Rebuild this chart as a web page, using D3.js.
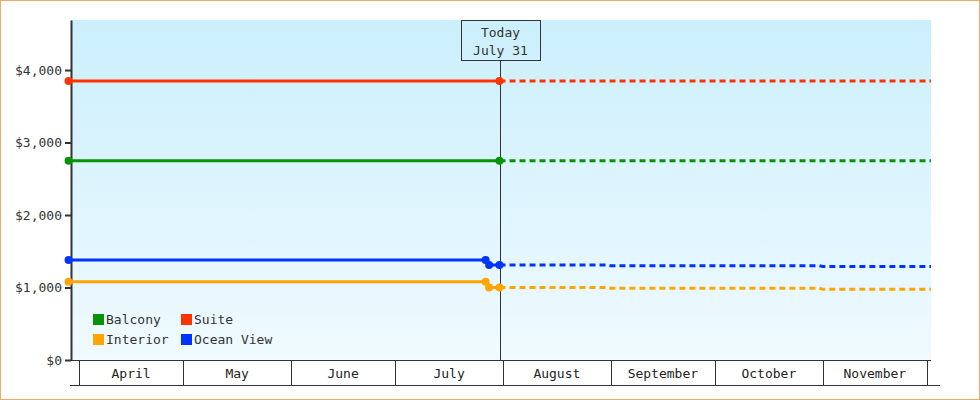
<!DOCTYPE html>
<html><head><meta charset="utf-8">
<script src="https://cdn.jsdelivr.net/npm/d3@7"></script>
<style>
body{margin:0;background:#fff}
svg{display:block;font-family:"DejaVu Sans Mono",monospace}
</style></head>
<body><svg id="chart" width="980" height="400"></svg>
<script>
var months = ['April','May','June','July','August','September','October','November'];
var yTicks = [0, 1000, 2000, 3000, 4000];
var seriesNames = ['Balcony','Suite','Interior','Ocean View'];
var colors = {'Balcony':'#079307','Suite':'#ff3300','Interior':'#ffa500','Ocean View':'#0033ff'};
var today = '2023-07-31';
// [date, price]
var pastBalcony = [['2023-03-29',2750],['2023-07-31',2750]];
var pastSuite = [['2023-03-29',3850],['2023-07-31',3850]];
var pastInterior = [['2023-03-29',1080],['2023-07-27',1080],['2023-07-28',1000],['2023-07-31',1000]];
var pastOcean = [['2023-03-29',1380],['2023-07-27',1380],['2023-07-28',1310],['2023-07-31',1310]];
var futBalcony = [['2023-07-31',2750],['2023-12-03',2750]];
var futSuite = [['2023-07-31',3850],['2023-12-03',3850]];
var futInterior = [['2023-07-31',1000],['2023-08-31',1000],['2023-09-01',990],['2023-10-31',990],['2023-11-01',975],['2023-12-03',975]];
var futOcean = [['2023-07-31',1310],['2023-08-31',1310],['2023-09-01',1300],['2023-10-31',1300],['2023-11-01',1290],['2023-12-03',1290]];

var svg = d3.select('#chart');
var parse = d3.timeParse('%Y-%m-%d');
var pLeft = 71, pRight = 931, pTop = 20, pBottom = 360;

var x = d3.scaleTime().domain([new Date(2023, 3, 1), new Date(2023, 11, 1)]).range([79, 927]);
var y = d3.scaleLinear().domain([0, 4690]).range([pBottom, pTop]);

var defs = svg.append('defs');
var grad = defs.append('linearGradient').attr('id','bg').attr('x1',0).attr('y1',0).attr('x2',0).attr('y2',1);
grad.append('stop').attr('offset','0%').attr('stop-color','#cbeffc');
grad.append('stop').attr('offset','100%').attr('stop-color','#f0faff');
defs.append('clipPath').attr('id','clip').append('rect')
  .attr('x',pLeft - 6).attr('y',pTop).attr('width',pRight - pLeft + 6).attr('height',pBottom - pTop);

svg.append('rect').attr('x',0.5).attr('y',0.5).attr('width',979).attr('height',399)
  .attr('fill','#fff').attr('stroke','#eeaa66');
svg.append('rect').attr('x',pLeft).attr('y',pTop).attr('width',pRight-pLeft).attr('height',pBottom-pTop).attr('fill','url(#bg)');

// y axis
var yAxis = d3.axisLeft(y).tickValues(yTicks).tickSize(6).tickSizeOuter(0)
  .tickFormat(function(d){ return '$' + d3.format(',')(d); });
svg.append('g').attr('transform','translate(' + pLeft + ',0)').call(yAxis)
  .call(function(g){ g.select('.domain').attr('stroke','#333').attr('stroke-width',2); })
  .call(function(g){ g.selectAll('line').attr('stroke','#333').attr('stroke-width',2); })
  .call(function(g){ g.selectAll('text').attr('fill','#333').style('font-size','13px').style('font-family','DejaVu Sans Mono'); });

// month boxes
var g = svg.append('g');
g.append('line').attr('x1',pLeft).attr('x2',pRight).attr('y1',pBottom + 0.5).attr('y2',pBottom + 0.5).attr('stroke','#333');
g.append('line').attr('x1',pLeft-1).attr('x2',940).attr('y1',385.5).attr('y2',385.5).attr('stroke','#333');
var bounds = months.map(function(m,i){ return new Date(2023, 3 + i, 1); });
bounds.push(new Date(2023, 11, 1));
bounds.forEach(function(d){
  var px = Math.round(x(d)) + 0.5;
  g.append('line').attr('x1',px).attr('x2',px).attr('y1',pBottom).attr('y2',385).attr('stroke','#333');
});
months.forEach(function(m,i){
  g.append('text').attr('x',(x(bounds[i]) + x(bounds[i+1])) / 2).attr('y',378)
    .attr('text-anchor','middle').attr('fill','#222').style('font-size','13px').text(m);
});

// today line
var tx = Math.round(x(parse(today))) + 0.5;
svg.append('line').attr('x1',tx).attr('x2',tx).attr('y1',60).attr('y2',pBottom).attr('stroke','#333');
svg.append('rect').attr('x',tx-39).attr('y',20.5).attr('width',79).attr('height',40)
  .attr('fill','none').attr('stroke','#333');
svg.append('text').attr('x',tx).attr('y',37).attr('text-anchor','middle').attr('fill','#333').style('font-size','13px').text('Today');
svg.append('text').attr('x',tx).attr('y',55).attr('text-anchor','middle').attr('fill','#333').style('font-size','13px').text('July 31');

var line = d3.line().x(function(d){ return x(parse(d[0])); }).y(function(d){ return y(d[1]); });
var past = {'Balcony':pastBalcony,'Suite':pastSuite,'Interior':pastInterior,'Ocean View':pastOcean};
var fut = {'Balcony':futBalcony,'Suite':futSuite,'Interior':futInterior,'Ocean View':futOcean};

var marks = svg.append('g').attr('clip-path','url(#clip)');
['Balcony','Suite','Interior','Ocean View'].forEach(function(n){
  marks.append('path').datum(fut[n]).attr('d',line).attr('fill','none')
    .attr('stroke',colors[n]).attr('stroke-width',3).attr('stroke-dasharray','6,4');
  marks.append('path').datum(past[n]).attr('d',line).attr('fill','none')
    .attr('stroke',colors[n]).attr('stroke-width',3);
  svg.selectAll(null).data(past[n]).enter().append('circle')
    .attr('cx',function(d){ return x(parse(d[0])); }).attr('cy',function(d){ return y(d[1]); })
    .attr('r',4).attr('fill',colors[n]);
});

// legend
var lg = svg.append('g');
seriesNames.forEach(function(n,i){
  var lx = 93 + (i % 2) * 88, ly = 314 + Math.floor(i / 2) * 20;
  lg.append('rect').attr('x',lx).attr('y',ly).attr('width',11).attr('height',11).attr('fill',colors[n]);
  lg.append('text').attr('x',lx+13).attr('y',ly+10).attr('fill','#333').style('font-size','13px').text(n);
});
</script></body></html>
